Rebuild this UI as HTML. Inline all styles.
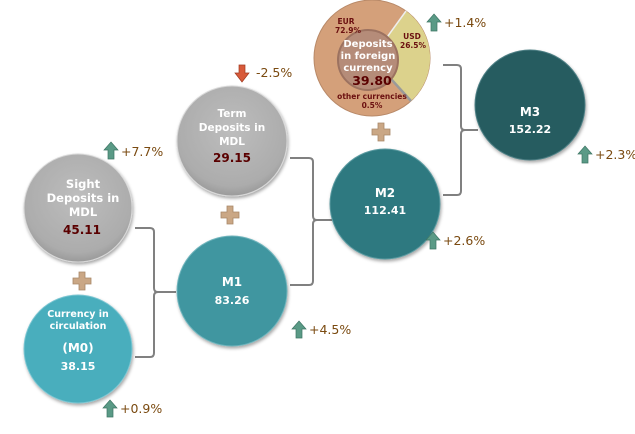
<!DOCTYPE html>
<html><head><meta charset="utf-8"><style>
body{margin:0;background:#fff;width:635px;height:430px;overflow:hidden;font-family:Verdana,"DejaVu Sans",sans-serif}
</style></head><body>
<svg width="635" height="430" xmlns="http://www.w3.org/2000/svg" font-family="DejaVu Sans, Verdana, sans-serif">
<defs>
<radialGradient id="g" cx="50%" cy="40%" r="60%"><stop offset="0" stop-color="#bdbdbd"/><stop offset="0.85" stop-color="#acacac"/><stop offset="1" stop-color="#9a9a9a"/></radialGradient>
<filter id="s" x="-20%" y="-20%" width="140%" height="140%"><feDropShadow dx="1" dy="2" stdDeviation="1.5" flood-opacity="0.35"/></filter>
<g id="up"><path d="M0,-8 L7,0 L3,0 L3,9 L-3,9 L-3,0 L-7,0 Z" fill="#5a9a86" stroke="#3d7564" stroke-width="0.7"/></g>
<g id="plus"><path d="M-3,-9 H3 V-3 H9 V3 H3 V9 H-3 V3 H-9 V-3 H-3 Z" fill="#caa785" stroke="#a88868" stroke-width="0.8"/></g>
</defs>
<g fill="none" stroke="#808080" stroke-width="2">
<path d="M135,228 H150 Q154,228 154,232 V288 Q154,292 158,292 H176"/>
<path d="M135,357 H150 Q154,357 154,353 V296 Q154,292 158,292"/>
<path d="M290,158 H309 Q313,158 313,162 V216 Q313,220 317,220 H332"/>
<path d="M290,285 H309 Q313,285 313,281 V224 Q313,220 317,220"/>
<path d="M443,65 H457 Q461,65 461,69 V126 Q461,130 465,130 H478"/>
<path d="M443,195 H457 Q461,195 461,191 V134 Q461,130 465,130"/>
</g>
<g filter="url(#s)">
<circle cx="78" cy="208" r="54" fill="url(#g)" stroke="#d8d8d8" stroke-width="1"/>
<circle cx="232" cy="141" r="55" fill="url(#g)" stroke="#d8d8d8" stroke-width="1"/>
<circle cx="78" cy="349" r="54" fill="#4aaebd" stroke="#7cc6d2" stroke-width="1"/>
<circle cx="232" cy="291" r="55" fill="#3f96a0" stroke="#6fb4bc" stroke-width="1"/>
<circle cx="385" cy="204" r="55" fill="#2e7980" stroke="#5a9aa0" stroke-width="1"/>
<circle cx="530" cy="105" r="55" fill="#275b61" stroke="#4d7f84" stroke-width="1"/>
</g>
<circle cx="372" cy="58" r="58" fill="#d4a07a" stroke="#b88968" stroke-width="1"/>
<path d="M372,58 L406,11 A58,58 0 0 1 411,101 Z" fill="#dcd28c"/>
<line x1="372" y1="58" x2="411" y2="101" stroke="#9a9a9a" stroke-width="2.5"/>
<line x1="372" y1="58" x2="406" y2="11" stroke="#eee" stroke-width="1.5"/>
<circle cx="368" cy="60" r="30" fill="#b58c79" stroke="#9c7260" stroke-width="2"/>
<g font-weight="bold" fill="#6b1010" font-size="7.5" text-anchor="middle">
<text x="346" y="24">EUR</text><text x="348" y="33">72.9%</text>
<text x="412" y="39">USD</text><text x="413" y="48">26.5%</text>
<text x="372" y="99">other currencies</text><text x="372" y="108">0.5%</text>
</g>
<g font-weight="bold" fill="#fff" font-size="10" text-anchor="middle">
<text x="368" y="47">Deposits</text><text x="368" y="59">in foreign</text><text x="368" y="71">currency</text>
</g>
<text x="372" y="85" font-weight="bold" fill="#5a0000" font-size="12.5" text-anchor="middle">39.80</text>
<g font-weight="bold" fill="#fff" text-anchor="middle">
<text x="83" y="188" font-size="11.5">Sight</text><text x="83" y="202" font-size="11.5">Deposits in</text><text x="83" y="216" font-size="11.5">MDL</text>
<text x="232" y="117" font-size="10.5">Term</text><text x="232" y="131" font-size="10.5">Deposits in</text><text x="232" y="145" font-size="10.5">MDL</text>
<text x="78" y="317" font-size="9.5">Currency in</text><text x="78" y="329" font-size="9.5">circulation</text>
<text x="78" y="352" font-size="12">(M0)</text><text x="78" y="370" font-size="11">38.15</text>
<text x="232" y="286" font-size="12">M1</text><text x="232" y="304" font-size="11">83.26</text>
<text x="385" y="197" font-size="12">M2</text><text x="385" y="214" font-size="11">112.41</text>
<text x="530" y="116" font-size="12">M3</text><text x="530" y="133" font-size="11">152.22</text>
</g>
<g font-weight="bold" fill="#5a0000" font-size="12" text-anchor="middle">
<text x="82" y="234">45.11</text><text x="232" y="162">29.15</text>
</g>
<use href="#plus" x="82" y="281"/><use href="#plus" x="230" y="215"/><use href="#plus" x="381" y="132"/>
<g font-size="12.5" fill="#7a4a10">
<use href="#up" x="111" y="150"/><text x="121" y="156">+7.7%</text>
<path d="M-3,-8 H3 V0 H7 L0,9 L-7,0 H-3 Z" transform="translate(242,73)" fill="#d85a3a" stroke="#a03a20" stroke-width="0.7"/><text x="256" y="77">-2.5%</text>
<use href="#up" x="434" y="22"/><text x="444" y="27">+1.4%</text>
<use href="#up" x="585" y="154"/><text x="595" y="159">+2.3%</text>
<use href="#up" x="433" y="240"/><text x="443" y="245">+2.6%</text>
<use href="#up" x="299" y="329"/><text x="309" y="334">+4.5%</text>
<use href="#up" x="110" y="408"/><text x="120" y="413">+0.9%</text>
</g>
</svg>
</body></html>
